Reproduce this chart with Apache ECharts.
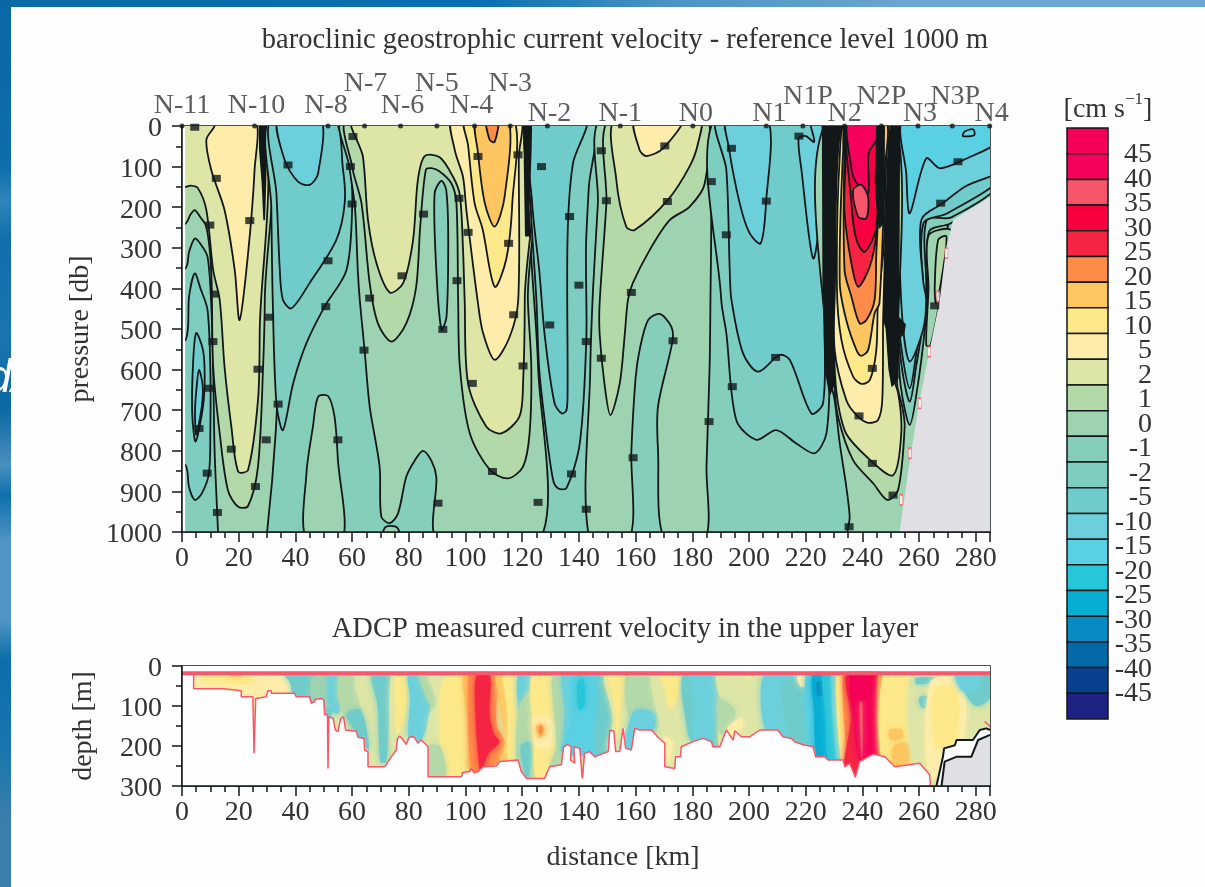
<!DOCTYPE html>
<html><head><meta charset="utf-8">
<script src="https://cdn.jsdelivr.net/npm/echarts@6/dist/echarts.min.js"></script>
<style>html,body{margin:0;padding:0;background:#fdfefd}#c{width:1205px;height:887px}</style>
</head><body><div id="c"></div>
<script>
// ---------- legend ----------
const legendLabels=['45','40','35','30','25','20','15','10','5','2','1','0','-1','-2','-5','-10','-15','-20','-25','-30','-35','-40','-45'];
const legendColors=['#f50057','#f5005a','#f7566a','#f80040','#f52442','#fe8c49','#fdc660','#fde989','#feedaa','#dde6a6','#b3d9a9','#9dd3b0','#85cfba','#7dcdc0','#6fccca','#6cd0dc','#5ad0e3','#27c6d8','#07aed4','#068cc2','#0568a8','#06408f','#1e2383'];
const bandLower=[45,40,35,30,25,20,15,10,5,2,1,0,-1,-2,-5,-10,-15,-20,-25,-30,-35,-40,-45];
// ---------- stations ----------
const stationNames=['N-11','N-10','N-8','N-7','N-6','N-5','N-4','N-3','N-2','N-1','N0','N1','N1P','N2','N2P','N3','N3P','N4'];
const stationKm=[0,25.6,51.5,64.4,77.1,89.9,103.2,115.8,128.9,154.6,180.2,206.1,219,233.7,246.7,259.6,271.7,284.9];
// ---------- upper section: contour regions as [km, db] ----------
const fieldBase=[[-5,-20],[290,-20],[290,1020],[-5,1020]];
const west0=[[-5,365],[1.3,350],[2.5,310],[4.5,277],[6.5,290],[9,322],[10.3,437],[11,600],[11.5,800],[12.7,1000],[12.7,1020],[29.7,1020],[29.7,-20],[-5,-20]];
const west1=[[-5,250],[1.3,240],[3,218],[4.5,207],[6.5,225],[8.6,248],[10.3,355],[11,593],[13.3,757],[16.2,897],[19.8,938],[23.3,936],[26.8,839],[28.6,593],[29.2,428],[29.2,-20],[-5,-20]];
const west2=[[-5,155],[1.3,150],[3,147],[5.6,153],[8.6,207],[11,355],[13.3,428],[15,593],[17.4,740],[19.8,851],[23.3,847],[26.8,675],[27.4,510],[27.4,-20],[-5,-20]];
const west5=[[11.5,-20],[11.5,0],[8.6,34],[10.3,108],[15,207],[18.6,355],[20.3,478],[23.3,314],[25.6,108],[25.6,-20]];
const westCold1=[[-5,535],[1.3,527],[2.5,420],[4.5,363],[6.5,400],[9,453],[10,600],[10,750],[9.5,855],[7,905],[4.5,921],[2.5,890],[1.3,836],[-5,800]];
const westCold2=[[5,510],[3.9,585],[3.6,708],[4.8,777],[7.4,691],[8,617],[7.4,552]];
const westCold3=[[5.2,640],[4.6,700],[5,760],[7,690],[7.3,640],[6,600]];
const westDense=[[27.4,-20],[29.7,-20],[29.7,60],[29.4,140],[29,230],[28.4,140],[27.5,60]];
const nwCold1=[[31,-20],[31.5,200],[32,428],[33.3,683],[35.6,749],[39.2,634],[43.9,535],[50.3,445],[58,355],[60,207],[59.4,108],[55,-20]];
const nwCold2=[[31.5,-20],[33.3,166],[34.5,355],[35.6,428],[38.6,449],[45,387],[54.4,281],[57.4,190],[56.8,108],[53.3,-20]];
const nwCold3=[[33.9,-20],[36.2,84],[40.9,137],[45,145],[48,117],[48.8,-20]];
const domeDeep=[[43.9,1020],[43.9,855],[46.2,740],[48,667],[51.5,665],[53.8,716],[55,823],[56.6,1020]];
const mid0=[[56.8,-20],[59,100],[61,200],[62,355],[62.7,428],[64.4,552],[66.2,691],[69.7,839],[70.3,962],[73.3,978],[76.2,954],[79.1,864],[82,825],[85,800],[88,825],[89.7,864],[90.4,1020],[126.2,1020],[125.6,593],[123,300],[122.3,100],[122,-20]];
const midFoot=[[70.5,1020],[71.5,990],[73.5,985],[76,990],[77,1020]];
const midFinger=[[89.1,166],[89.7,355],[91.5,502],[93.3,470],[93.9,272],[93.2,158],[91.5,135]];
const mid1=[[58.6,-20],[60,100],[63.3,190],[66.2,387],[69.1,486],[73.9,531],[79.1,486],[82.6,396],[84,250],[86,108],[88,104],[90.9,112],[95,141],[96.8,190],[97.4,428],[98,593],[101.5,757],[108.6,847],[115,868],[120.3,839],[122.6,757],[123.2,593],[122,428],[121.3,-20]];
const mid2=[[60.3,-20],[63.8,75],[65.6,231],[68.6,338],[73.3,410],[78,387],[81.5,281],[83.2,133],[85.6,74],[90.9,77],[95.6,125],[98,170],[99.1,300],[99.7,428],[100.9,634],[107.3,740],[112.6,757],[119,716],[120.3,634],[120.9,428],[120.5,-20]];
const mid5=[[95.4,-20],[96.2,59],[99.1,125],[100.3,207],[104.4,437],[106.2,510],[110.3,576],[115.6,519],[118.6,428],[118.8,75],[119,-20]];
const mid10=[[99.7,-20],[100.9,47],[103.2,190],[106,253],[110.3,396],[114.4,327],[116.5,190],[116.8,-20]];
const mid15=[[103.8,-20],[104.4,66],[106.8,190],[110.3,248],[113.8,174],[115,-20]];
const mid20=[[107.3,-20],[108.5,34],[110.3,39],[111.5,-20]];
const midDense=[[120.5,-20],[123.2,-20],[123,60],[122.3,200],[122.8,270],[121.3,270],[121,150],[120.8,60]];
const n2Cold1=[[122.3,-20],[123,200],[125,428],[126,600],[128.5,757],[130.9,872],[132.6,892],[135.6,892],[140.3,782],[142.6,527],[142.5,300],[143.5,150],[145,-20]];
const n2Cold2=[[123,-20],[123.5,190],[126,355],[128,520],[131.4,683],[134,708],[135.6,700],[136,650],[136,272],[137.9,92],[142.6,-20]];
const n1w0=[[148,-20],[146.7,190],[145,400],[144,600],[143.8,1020],[157.7,1020],[158.5,800],[160,620],[161.4,552],[164.4,478],[168.5,463],[172.6,494],[173,530],[167.9,691],[167.9,798],[170.3,1020],[184.4,1020],[185,839],[186.1,593],[186.4,428],[186.7,190],[186.2,-20]];
const n1w1=[[150.9,-20],[149.7,190],[147.3,437],[147.3,511],[149,634],[151.1,712],[154.4,634],[156.2,511],[157.3,428],[159,387],[165,305],[172,232],[179,199],[184.4,141],[184.4,-20]];
const n1w2=[[153,-20],[153.2,133],[156.7,248],[159.7,256],[171.4,182],[179,100],[182,43],[182.6,-20]];
const n1w5=[[159.7,-20],[161.4,59],[163.8,74],[169.7,55],[176.7,-20]];
const east1=[[187.9,-20],[190.2,428],[192,510],[195.5,724],[202.6,773],[209.6,749],[216.7,782],[223.2,806],[227.3,757],[228.4,593],[227,-20]];
const east2=[[189,-20],[192,108],[193.2,355],[193.8,428],[197.9,560],[203.2,605],[210.8,564],[214.4,576],[222,708],[226.1,683],[226.7,511],[226.7,-20]];
const east3=[[192,-20],[192.8,50],[196.7,190],[200.2,264],[204.1,289],[206,190],[206.5,-20]];
const east4=[[217.5,30],[218.5,108],[222.6,326],[225.5,190],[225.6,-20],[221.5,-20],[223,39],[220,25]];
const jet0=[[228,-20],[228,600],[230.2,675],[232,782],[234.3,888],[235.5,962],[235.3,1020],[258,1020],[270,250],[285,100],[285,-20]];
const slope1=[[252,-20],[252.5,500],[253.5,640],[256.7,736],[259.5,640],[262,500],[263,400],[263.5,260],[271,240],[290,155],[290,-20]];
const slope2=[[252,-20],[252.5,480],[254,600],[256.7,679],[259,590],[261.5,480],[262.5,400],[262.7,231],[271.4,225],[290,130],[290,-20]];
const slope3=[[252.2,-20],[252.5,450],[254,560],[256.7,646],[259,560],[261.4,437],[261.5,240],[270,215],[290,118],[290,-20]];
const slope4=[[252.6,-20],[253,300],[254.3,494],[256.7,580],[261.4,502],[262.5,428],[261.4,380],[260.8,231],[268.4,190],[276,150],[290,100],[290,-20]];
const slope5=[[254.9,-20],[255.5,120],[256.7,215],[262.5,80],[267.3,104],[275.5,84],[290,30],[290,-20]];
const slopeIsle=[[275.5,25],[276,14],[279,8],[279.5,22]];
const wedge0=[[263.3,270],[271,255],[270,300],[267,440],[264,540],[262.5,540],[263.3,400]];
const wedge1=[[266.7,281],[269.6,272],[268.4,355],[266,437],[265.5,400]];
const jet1=[[229.2,-20],[230.2,634],[231.4,716],[236.7,823],[243.8,880],[248.8,921],[252.6,896],[254.9,740],[254,690],[252.2,634],[251.5,-20]];
const jet2=[[229.5,-20],[230.2,593],[233.7,749],[241.4,814],[250.8,860],[253.7,757],[252.6,658],[249.6,593],[249,428],[249,-20]];
const jetDenseW=[[226,-20],[234.5,-20],[234.5,40],[232,150],[230.3,400],[229.7,640],[228.5,660],[227,600],[226.2,400]];
const jetDenseE=[[245.3,-20],[253,-20],[252.8,300],[252.5,470],[255,490],[254.5,510],[252,530],[252.5,620],[250.5,640],[249.5,600],[248.5,500],[247,460],[247,100],[245.5,60]];
const jet5=[[234.5,-20],[231.3,75],[230.3,400],[230.2,552],[234.3,675],[237.9,712],[242,731],[245.5,724],[247,675],[247.3,478],[248,300],[249.2,40],[249.2,-20]];
const jet10=[[234.6,-20],[232,75],[231,396],[232.6,527],[236.7,617],[239.6,635],[242.6,626],[244.9,552],[245.5,428],[247.5,300],[248.5,41],[248.5,-20]];
const jet15=[[234.8,-20],[233.2,60],[232,387],[234.3,478],[237.9,552],[239.6,566],[242,552],[244.3,461],[246,437],[247.9,108],[248,-20]];
const jet20=[[234.9,-20],[233.7,59],[233.7,355],[236.1,420],[239,486],[241.4,478],[244.3,428],[244.9,314],[246.7,67],[246.7,-20]];
const jet25=[[235,-20],[234,100],[233.7,215],[236.1,338],[238.5,396],[242.6,346],[244.9,264],[245.5,100],[245.5,-20]];
const jet30=[[235,-20],[236.1,190],[237.9,281],[240.8,310],[244.9,248],[245.2,-20]];
const jet40=[[235,-20],[236.2,108],[237.9,140],[242,166],[242.2,67],[245.2,30],[245.2,-20]];
const jet35=[[236.7,158],[238.5,223],[241.4,227],[242,174],[239.6,145]];
const jetDenseCore=[[245.2,-20],[247.6,-20],[247.6,150],[247,240],[246,250],[245.2,200],[244.6,130],[245,50]];
const coastUpper=[[253.1,1020],[253.1,1000],[256.7,823],[260.2,675],[263.7,552],[267.3,428],[269.6,297],[272,231],[278,205],[285,174],[290,174],[290,1020]];
const westEdge=[[-5,-20],[1.1,-20],[1.1,1020],[-5,1020]];
const contourLabels=[[4.5,3],[12.1,129],[23.9,233],[37.4,96],[51.5,332],[50.7,445],[59.4,100],[60.3,26],[60,192],[77.6,369],[104.4,75],[97.7,178],[100.9,262],[115.2,289],[117,465],[126.8,100],[129.7,490],[136.7,223],[118.5,71],[11.5,414],[9.8,244],[10.9,531],[30.9,471],[26.8,599],[9.5,646],[6,745],[17.4,796],[25.9,888],[29.7,773],[8.9,855],[12.5,952],[33.9,685],[55,773],[64.2,552],[90.3,929],[92,501],[102.4,634],[120.3,591],[109.5,851],[125.6,927],[137.4,857],[142.6,944],[142.6,531],[147.9,61],[170.3,49],[171.2,186],[186.7,137],[192,268],[193.8,55],[206.1,185],[217.6,25],[173.2,529],[273.7,88],[267.6,190],[265.5,443],[159.1,817],[185.9,728],[147.9,572],[209.4,570],[194.1,642],[238.8,714],[243.5,597],[243.5,831],[250.8,909],[235.3,987],[85.2,217],[66.2,424],[97,381],[140,392],[149.7,184],[158.5,410]];
const coastFlecks=[[269.6,313],[266.7,420],[263.5,556],[260.2,683],[256.7,806],[253.7,921]];
// ---------- lower section ----------
const bathymetry=[[4.1,18],[4.1,57],[15,57],[15,62],[20.9,62],[20.9,77],[25,77],[25.4,218],[25.6,218],[26,81],[29.7,77],[30.3,62],[31.5,62],[31.5,68],[39.7,68],[40.3,77],[45,77],[45.6,93],[46.8,89],[47,83],[49.2,81],[50,85],[50.3,122],[51.3,122],[51.5,256],[51.7,256],[51.8,127],[53.3,131],[54.1,160],[55,164],[56,131],[57,127],[57.7,160],[61.5,163],[62.1,178],[64.2,181],[64.4,210],[65.6,214],[65.6,252],[71.5,252],[73.8,227],[75.6,210],[76,181],[76.8,175],[78,185],[79.1,196],[80.1,178],[81.8,177],[83.2,193],[84.4,185],[86.8,202],[86.8,277],[98.5,277],[99,266],[101.5,264],[102,256],[103,267],[104.4,264],[106.2,252],[110.9,250],[112,239],[118.5,235],[119.7,264],[121.5,281],[127.9,281],[129.7,252],[133.8,247],[134.6,202],[136.1,196],[137.3,202],[137,235],[138.5,243],[138.2,202],[140.3,206],[141.2,281],[141.7,281],[142,218],[143.8,214],[145.6,227],[150.3,214],[150.9,160],[152.3,163],[153,214],[154.4,214],[155.6,156],[156.2,156],[156.5,206],[158.5,210],[159.7,156],[161.4,160],[165.6,160],[167.9,178],[170.3,193],[170.3,252],[173.8,256],[174.1,227],[175.8,227],[176.1,202],[180.2,189],[183.8,181],[186.7,189],[187.3,202],[189.7,202],[192,160],[194.4,185],[195,162],[197.3,177],[200.2,177],[203.8,160],[210.2,160],[212,177],[215,181],[216,189],[219,197],[222.6,202],[223.5,227],[226.7,227],[227.9,235],[233.2,235],[233.8,252],[235.5,243],[237.5,278],[239,239],[243.8,220],[247.9,227],[251.4,252],[260.2,243],[263.7,272],[264,300]];
const coastOuter=[[266.1,300],[268.4,227],[268.8,206],[272.6,198],[273.2,185],[276.7,185],[279,185],[281.4,160],[283.7,156],[285,160]];
const coastInner=[[267.9,300],[269,239],[273.1,227],[278.4,227],[280.8,185],[285,172]];
const surfaceLine=[[0,18],[285,18]];
const slopeRed=[[283.1,139],[284.2,145],[285,152]];
const skyAboveSurface=[[-5,-5],[290,-5],[290,14],[-5,14]];
const adcpPatches=[
[2,[[4,18],[285,18],[285,300],[4,300]]],[5,[[4,18],[36,18],[40,85],[4,85]]],[10,[[7,20],[22,20],[26,40],[8,38]]],[15,[[17,19],[21,19],[21,26],[17,26]]],
[-5,[[36,18],[52,18],[52,130],[40,85],[38,40]]],[0,[[46,30],[52,30],[52,100],[46,85]]],[-10,[[52,18],[57,18],[57,60],[55,120],[52,100]]],
[1,[[56,18],[66,18],[66,250],[60,165],[55,80]]],[2,[[61,30],[67,30],[70,250],[66,250],[65,150]]],[-5,[[58,120],[63,110],[66,210],[62,170]]],
[-5,[[67,18],[74,18],[73,140],[72,240],[70,240],[69,100]]],[2,[[74,18],[80,18],[80,100],[77,180],[74,200]]],[10,[[75.5,18],[79,18],[79,110],[76,170],[75.5,100]]],
[-10,[[80,18],[88,18],[87,130],[84,190],[80,180],[80.5,80]]],[1,[[84,18],[92,18],[95,60],[90,110],[87,90]]],[2,[[87,20],[99,20],[99,90],[93,280],[87,280],[87,130],[90,90]]],
[10,[[92,40],[99,20],[99,280],[90,280],[91,230],[91,140]]],[1,[[87,200],[91,200],[93,280],[87,280]]],[15,[[99,18],[103,18],[103,265],[101,260],[101,150]]],
[20,[[101,18],[103.5,18],[104,150],[105,265],[102,260]]],[20,[[108,18],[111,18],[111,150],[114,190],[111.5,240],[106,255],[106,230]]],
[25,[[104,18],[108.5,18],[108.5,120],[110,170],[112,190],[108,220],[106,260],[105,260],[103.5,120]]],[15,[[110.5,18],[114,18],[115,190],[117,240],[112,240],[114,190]]],
[10,[[113.5,18],[118.5,18],[119,150],[118,235],[115,235],[115,120]]],[-10,[[118.5,18],[123,18],[122.5,80],[121,120],[119,120]]],[1,[[119,100],[124,60],[124,180],[125,285],[121,285],[118,235]]],
[-5,[[119.5,200],[123,190],[123,250],[122,280],[121,270]]],[10,[[123.5,18],[131,18],[131,130],[133,200],[129,270],[125,285],[124,180]]],[5,[[124,130],[131,140],[130,200],[125,200]]],
[15,[[125,150],[127,145],[128,165],[126,180]]],[20,[[125.8,152],[127,150],[127.2,165],[126.2,172]]],[1,[[130.5,18],[134.5,18],[135,130],[134,250],[129.5,260],[132,200]]],
[-10,[[134,18],[139,18],[139,200],[135,200],[135,110]]],[-15,[[138,18],[147,18],[150,140],[150,215],[134,215],[137,150]]],[-20,[[139.5,40],[141.5,30],[142,100],[140,110]]],
[-5,[[147,18],[149.5,18],[152,200],[146,214],[147,100]]],[2,[[149,18],[158,18],[156,100],[155,214],[150,214],[152,130]]],[10,[[150.5,18],[157,18],[155,90],[153.5,175],[152.5,90]]],
[1,[[157,18],[167,18],[167,170],[158,130]]],[-10,[[160,110],[167,120],[166,160],[160,160],[158,215],[155,215],[157,160]]],[2,[[166,18],[178,18],[178,190],[176,200],[174,260],[170,260],[170,180],[167,100]]],
[10,[[169,18],[175,18],[175,70],[172,110],[171,70]]],[5,[[170,180],[173,190],[172,240],[171,240]]],[-5,[[177,18],[190,18],[190,205],[180,190],[178,150]]],[-10,[[180,18],[188,18],[188,120],[186,190],[181,185],[181,100]]],
[2,[[189,18],[206,18],[206,170],[190,205],[190,100]]],[1,[[189,80],[195,110],[194,150],[190,170]]],[5,[[192,160],[197,130],[198,150],[194,180]]],[5,[[198,18],[201,18],[200,30],[199,30]]],
[-10,[[205.5,18],[219,18],[224,200],[215,190],[206,165]]],[-5,[[212,40],[220,50],[222,200],[215,180]]],[5,[[217,18],[220,18],[220,50],[218,50]]],[-15,[[220,18],[224,18],[224,205],[221,190]]],
[-25,[[222.5,18],[228,18],[229,130],[228,235],[224,230],[223,120]]],[-30,[[224,40],[226,40],[226,70],[224.5,75]]],[-20,[[226,18],[229.5,18],[231,240],[228,240],[227,130]]],[-15,[[229,18],[231.8,18],[233,240],[231,240]]],
[10,[[230.8,18],[234,18],[235,240],[232.5,240]]],[20,[[233,18],[236,18],[237,240],[235,240]]],[25,[[234.5,18],[246,18],[246,240],[237.5,285],[233.5,260],[236,130]]],[45,[[236,18],[245,18],[245,225],[239,235],[237,130]]],
[35,[[239,90],[240,90],[240,235],[239.5,220]]],[20,[[245.5,18],[248,18],[247.5,225],[246,225]]],[10,[[247.5,18],[257,18],[258,255],[247.5,255]]],[15,[[249.5,160],[254,160],[254,180],[250,185]]],[15,[[251,200],[256,195],[256,250],[251,250]]],
[2,[[257,18],[265,18],[265,285],[258,255]]],[-5,[[259,30],[266,30],[266,40],[259,45]]],[-5,[[260,80],[263,75],[263,100],[261,105]]],[5,[[264,40],[275,40],[275,200],[264,285]]],[10,[[265.5,60],[273,55],[273,180],[268,205],[265.5,200]]],
[-5,[[273,20],[285,20],[285,80],[280,100],[276,65]]],[-10,[[273,18],[281,18],[280,60],[275,60]]]
];
// ---------- axis text ----------
const titles=['baroclinic geostrophic current velocity - reference level 1000 m','ADCP measured current velocity in the upper layer'];

// ---------- build ----------
const bandColor={};bandLower.forEach((b,i)=>bandColor[b]=legendColors[i]);
const INK='#12181a',TXT='#333',SERIF='"Liberation Serif",serif',FS=28;
const upperFields=[[-1,fieldBase],[0,west0],[1,west1],[2,west2],[5,west5],[-2,westCold1],[-5,westCold2],[-10,westCold3],['ink',westDense],
[-2,nwCold1],[-5,nwCold2],[-10,nwCold3],[0,domeDeep],[0,mid0],[0,midFoot],[-1,midFinger],[1,mid1],[2,mid2],[5,mid5],[10,mid10],[15,mid15],[20,mid20],
[-2,n2Cold1],[-5,n2Cold2],['ink',midDense],[0,n1w0],[1,n1w1],[2,n1w2],[5,n1w5],[-2,east1],[-5,east2],[-10,east3],[-10,east4],
[0,jet0],[-1,slope1],[-2,slope2],[-5,slope3],[-10,slope4],[-15,slope5],[-10,slopeIsle],[0,wedge0],[1,wedge1],
[1,jet1],[2,jet2],['ink',jetDenseW],['ink',jetDenseE],[5,jet5],[10,jet10],[15,jet15],[20,jet20],[25,jet25],[30,jet30],[40,jet40],[35,jet35],['ink',jetDenseCore],
['coast',coastUpper],['paper',westEdge]];
function fillOf(b){return b==='ink'?INK:b==='coast'?'#e0dfe3':b==='paper'?'#fdfefd':bandColor[b];}
function polySeries(list,gridIdx,styler,z,smoother){return {type:'custom',coordinateSystem:'cartesian2d',xAxisIndex:gridIdx,yAxisIndex:gridIdx,clip:true,silent:true,z:z||2,
  data:list.map((_,i)=>[i]),
  renderItem:(p,api)=>{const [b,pts]=list[p.dataIndex];return {type:'polygon',shape:{points:pts.map(q=>api.coord(q)),smooth:smoother?smoother(b):0},style:styler(b)};}};}
const lineStyleOf=b=>(b==='coast'||b==='paper')?{fill:fillOf(b)}:{fill:fillOf(b),stroke:INK,lineWidth:1.8,lineJoin:'round'};
const blurStyleOf=b=>({fill:bandColor[b],shadowBlur:6,shadowColor:bandColor[b]});
const contourSmooth=b=>(typeof b==='number')?0.3:0;
const riseOf={'N-7':30,'N-5':30,'N-3':30,'N1P':17,'N2P':17,'N3P':17,'N-2':0,'N-1':0,'N0':0,'N1':0,'N2':0,'N3':0,'N4':0};
const nudgeOf={'N-10':2,'N-8':-2,'N-7':1,'N-6':2,'N-4':-3,'N-2':2,'N0':3,'N1':3,'N1P':5,'N3':2,'N3P':3,'N4':2};
const mask=[...bathymetry,[264,305],...coastOuter,[290,160],[290,320],[-5,320],[-5,-5],[4.1,-5]];
const lowerGrey=[...coastInner,[290,172],[290,320],[267.9,320]];
function xAxis(grid){return {type:'value',gridIndex:grid,min:0,max:285,interval:20,z:10,
  axisLine:{show:true,onZero:false,lineStyle:{color:INK,width:1.5}},axisTick:{show:true,length:10,lineStyle:{color:INK,width:1.5}},minorTick:{show:true,splitNumber:4,length:6,lineStyle:{color:INK,width:1.5}},
  splitLine:{show:false},minorSplitLine:{show:false},axisLabel:{fontFamily:SERIF,fontSize:FS,color:TXT,margin:13,showMaxLabel:false,formatter:v=>v>280?'':String(v)}};}
function yAxis(grid,max,interval,name,gap){return {type:'value',gridIndex:grid,min:0,max,interval,inverse:true,name,nameLocation:'middle',nameGap:gap,nameTextStyle:{fontFamily:SERIF,fontSize:FS,color:TXT},z:10,
  axisLine:{show:true,onZero:false,lineStyle:{color:INK,width:1.5}},axisTick:{show:true,length:10,lineStyle:{color:INK,width:1.5}},minorTick:{show:true,splitNumber:2,length:6,lineStyle:{color:INK,width:1.5}},
  splitLine:{show:false},minorSplitLine:{show:false},axisLabel:{fontFamily:SERIF,fontSize:FS,color:TXT,margin:20,verticalAlign:'top',lineHeight:6,formatter:v=>String(v)}};}

const option={animation:false,backgroundColor:'#fdfefd',
 title:[{text:titles[0],left:620,top:21,textAlign:'center',textStyle:{fontFamily:SERIF,fontSize:28.5,fontWeight:'normal',color:TXT}},
        {text:titles[1],left:620,top:610,textAlign:'center',textStyle:{fontFamily:SERIF,fontSize:28.5,fontWeight:'normal',color:TXT}},
        {text:'distance [km]',left:618,top:839,textAlign:'center',textStyle:{fontFamily:SERIF,fontSize:FS,fontWeight:'normal',color:TXT}},
        {text:'[cm s{s|−1}]',left:1103,top:86,textAlign:'center',textStyle:{fontFamily:SERIF,fontSize:FS,fontWeight:'normal',color:TXT,rich:{s:{fontFamily:SERIF,fontSize:17,padding:[0,0,20,0],color:TXT}}}}],
 grid:[{left:182,top:126,width:808,height:406,show:true,borderColor:INK,borderWidth:1.5,backgroundColor:'transparent'},
       {left:182,top:666,width:808,height:120,show:true,borderColor:INK,borderWidth:1.5,backgroundColor:'transparent'},
       {left:1067,top:128,width:41,height:591},
       {left:1067,top:130.5,width:41,height:588}],
 xAxis:[xAxis(0),xAxis(1),{type:'value',gridIndex:2,min:0,max:1,show:false},{type:'value',gridIndex:3,min:0,max:1,show:false}],
 yAxis:[yAxis(0,1000,100,'pressure [db]',84),yAxis(1,300,100,'depth [m]',84),
  {type:'value',gridIndex:2,min:0,max:23,interval:1,inverse:true,show:false},
  {type:'value',gridIndex:3,min:0,max:24,interval:1,inverse:true,position:'right',axisLine:{show:false},axisTick:{show:false},splitLine:{show:false},
   axisLabel:{fontFamily:SERIF,fontSize:FS,color:TXT,align:'right',margin:44,showMinLabel:true,showMaxLabel:true,formatter:v=>legendLabels[v-1]||''}}],
 series:[
  polySeries(upperFields,0,lineStyleOf,2,contourSmooth),
  {type:'scatter',xAxisIndex:0,yAxisIndex:0,z:4,silent:true,symbol:'rect',symbolSize:[9,7],itemStyle:{color:INK},data:contourLabels},
  {type:'scatter',xAxisIndex:0,yAxisIndex:0,z:4,silent:true,symbol:'rect',symbolSize:[3,10],itemStyle:{color:'#fff',borderColor:'#f7566a',borderWidth:1},data:coastFlecks},
  {type:'scatter',xAxisIndex:0,yAxisIndex:0,z:12,silent:true,clip:false,symbol:'circle',symbolSize:5,itemStyle:{color:INK},
   data:stationKm.map((k,i)=>{const n=stationNames[i];return {value:[k,0],name:n,label:{show:true,position:'top',distance:riseOf[n]===undefined?8:riseOf[n],offset:[nudgeOf[n]||0,4],formatter:n,fontFamily:SERIF,fontSize:FS,color:TXT}};})},
  polySeries(adcpPatches,1,blurStyleOf,2,()=>0.3),
  polySeries([['paper',mask],['coast',lowerGrey],['paper',skyAboveSurface]],1,b=>({fill:fillOf(b)}),3),
  {type:'line',xAxisIndex:1,yAxisIndex:1,z:5,silent:true,symbol:'none',lineStyle:{color:'#f9566c',width:1.5},data:bathymetry},
  {type:'line',xAxisIndex:1,yAxisIndex:1,z:5,silent:true,symbol:'none',lineStyle:{color:'#f9566c',width:1.5},data:slopeRed},
  {type:'line',xAxisIndex:1,yAxisIndex:1,z:5,silent:true,symbol:'none',lineStyle:{color:'#f9566c',width:4},data:surfaceLine},
  {type:'line',xAxisIndex:1,yAxisIndex:1,z:5,silent:true,symbol:'none',lineStyle:{color:INK,width:2},data:coastOuter},
  {type:'line',xAxisIndex:1,yAxisIndex:1,z:5,silent:true,symbol:'none',lineStyle:{color:INK,width:2},data:coastInner},
  {type:'custom',coordinateSystem:'cartesian2d',xAxisIndex:2,yAxisIndex:2,silent:true,data:legendColors.map((_,i)=>[0,i]),
   renderItem:(p,api)=>{const i=p.dataIndex,a=api.coord([0,i]),b=api.coord([1,i+1]);return {type:'rect',shape:{x:a[0],y:a[1],width:b[0]-a[0],height:b[1]-a[1]},style:{fill:legendColors[i],stroke:INK,lineWidth:1.5}};}}
 ],
 graphic:[
  {type:'rect',z:-1,silent:true,shape:{x:0,y:0,width:1205,height:7},style:{fill:{type:'linear',x:0,y:0,x2:1,y2:0,colorStops:[{offset:0,color:'#0b6ba6'},{offset:.4,color:'#0a70b0'},{offset:.55,color:'#4a93c4'},{offset:.75,color:'#6ba5d0'},{offset:1,color:'#6ba5d0'}]}}},
  {type:'rect',z:-1,silent:true,shape:{x:0,y:0,width:11,height:887},style:{fill:{type:'linear',x:0,y:0,x2:0,y2:1,colorStops:[{offset:0,color:'#0a68a5'},{offset:.19,color:'#0e6ea9'},{offset:.225,color:'#3085ba'},{offset:.27,color:'#126fa9'},{offset:.38,color:'#1a75ae'},{offset:.46,color:'#0a68a3'},{offset:.524,color:'#4a8fc0'},{offset:.558,color:'#0e70ab'},{offset:.61,color:'#4f94c4'},{offset:.70,color:'#4f94c4'},{offset:.744,color:'#0b6ea9'},{offset:.845,color:'#1a76ae'},{offset:.93,color:'#3b7fac'},{offset:1,color:'#3b7fac'}]}}},
  {type:'text',z:0,silent:true,style:{x:-14,y:356,text:'d/',fontFamily:'"Liberation Sans",sans-serif',fontStyle:'italic',fontSize:46,fill:'#fff',shadowColor:'#000',shadowOffsetX:3,shadowOffsetY:1,shadowBlur:0}}
 ]};
const chart=echarts.init(document.getElementById('c'),null,{renderer:'canvas',width:1205,height:887});
chart.setOption(option);
</script></body></html>
